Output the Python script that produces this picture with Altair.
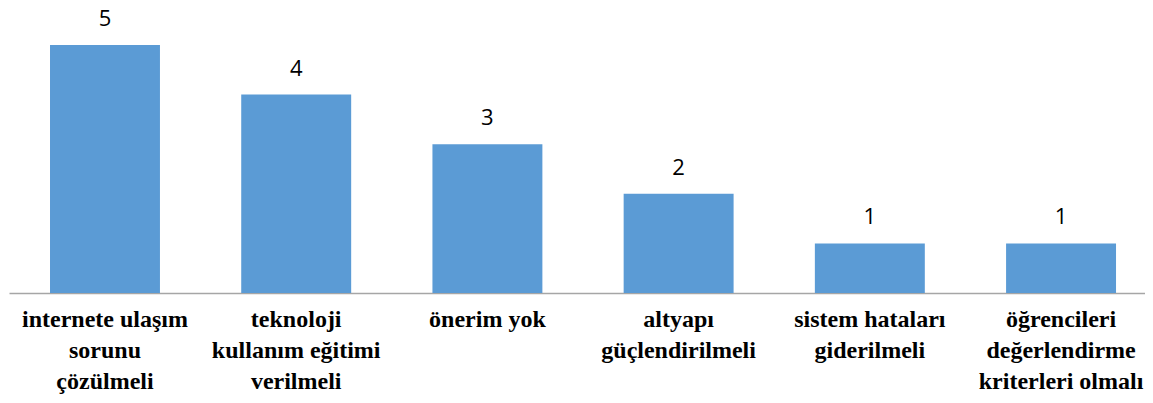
import altair as alt
import pandas as pd

categories = [
    "internete ulaşım\nsorunu\nçözülmeli",
    "teknoloji\nkullanım eğitimi\nverilmeli",
    "önerim yok",
    "altyapı\ngüçlendirilmeli",
    "sistem hataları\ngiderilmeli",
    "öğrencileri\ndeğerlendirme\nkriterleri olmalı",
]
values = [5, 4, 3, 2, 1, 1]

df = pd.DataFrame({"cat": categories, "val": values})

x = alt.X(
    "cat:N",
    sort=None,
    scale=alt.Scale(paddingInner=0.425, paddingOuter=0.183, align=0.586, round=False),
    axis=alt.Axis(
        title=None,
        labelAngle=0,
        labelExpr="split(datum.label, '\\n')",
        labelFont="Liberation Serif, DejaVu Serif, Times New Roman, serif",
        labelFontWeight="bold",
        labelFontSize=24,
        labelLineHeight=31,
        labelColor="#000000",
        labelPadding=14,
        labelLimit=400,
        labelBaseline="top",
        ticks=False,
        domainColor="#a6a6a6",
        domainWidth=1.3,
        grid=False,
    ),
)
y = alt.Y(
    "val:Q",
    scale=alt.Scale(domain=[0, 5.746], nice=False, zero=True),
    axis=None,
)

bars = alt.Chart(df).mark_bar(color="#5b9bd5").encode(x=x, y=y)
text = alt.Chart(df).mark_text(
    font="Open Sans", fontSize=22, color="#000000", baseline="bottom", dy=-14
).encode(x=x, y=y, text="val:Q")

chart = (
    alt.layer(bars, text)
    .properties(
        width=1136,
        height=285,
        padding={"left": 1, "top": 0, "right": 0, "bottom": 102},
        autosize=alt.AutoSizeParams(type="none"),
    )
    .configure_view(stroke=None)
)

chart.save("out.html", embed_options={"renderer": "svg", "actions": False})
